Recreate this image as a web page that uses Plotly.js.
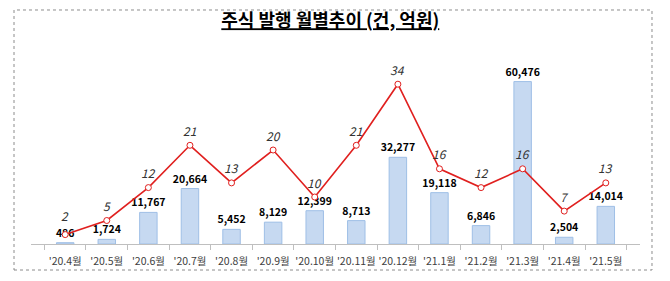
<!DOCTYPE html>
<html>
<head>
<meta charset="utf-8">
<script src="https://cdn.plot.ly/plotly-3.0.1.min.js"></script>
<style>
  html, body { margin: 0; padding: 0; background: #ffffff; }
  #chart { width: 670px; height: 281px; }
</style>
</head>
<body>
<div id="chart"></div>
<script>
// Monthly stock issuance: count (건) and amount (억원)
const months = ["'20.4월", "'20.5월", "'20.6월", "'20.7월", "'20.8월", "'20.9월", "'20.10월",
                "'20.11월", "'20.12월", "'21.1월", "'21.2월", "'21.3월", "'21.4월", "'21.5월"];
const amounts = [486, 1724, 11767, 20664, 5452, 8129, 12399, 8713, 32277, 19118, 6846, 60476, 2504, 14014];
const counts = [2, 5, 12, 21, 13, 20, 10, 21, 34, 16, 12, 16, 7, 13];

const FONT = '"Noto Sans CJK KR", "Noto Sans", sans-serif';

const amountTrace = {
  type: 'bar',
  x: months,
  y: amounts,
  width: 0.42,
  marker: { color: '#c6d9f1', line: { color: '#9fbfe6', width: 1 } },
  text: amounts.map(v => v.toLocaleString('en-US')),
  textposition: 'outside',
  constraintext: 'none',
  textfont: { family: FONT, size: 10.5, color: '#000000', weight: 'bold' },
  cliponaxis: false,
  hoverinfo: 'skip'
};

const countTrace = {
  type: 'scatter',
  mode: 'lines+markers',
  x: months,
  y: counts,
  yaxis: 'y2',
  line: { color: '#e0201f', width: 1.6 },
  marker: { symbol: 'circle', size: 6, color: '#ffffff', line: { color: '#e0201f', width: 1 } },
  cliponaxis: false,
  hoverinfo: 'skip'
};

// Count labels above each point; the first one sits a little higher
// so it clears the amount label of the short first bar.
const countLabels = months.map((m, i) => ({
  x: m,
  y: counts[i],
  xref: 'x',
  yref: 'y2',
  text: String(counts[i]),
  showarrow: false,
  yshift: i === 0 ? 19 : 15,
  borderpad: 0,
  font: { family: FONT, size: 12, color: '#333333', style: 'italic' }
}));

const layout = {
  width: 670,
  height: 281,
  margin: { l: 31, r: 30, t: 56, b: 37, pad: 0 },
  paper_bgcolor: '#ffffff',
  plot_bgcolor: 'rgba(0,0,0,0)',
  showlegend: false,
  bargap: 0.58,
  title: {
    text: '<u>주식 발행 월별추이 (건, 억원)</u>',
    font: { family: FONT, size: 18, color: '#000000', weight: 'bold' },
    x: 0.493, xanchor: 'center',
    y: 1 - 21 / 281, yanchor: 'middle', yref: 'container'
  },
  xaxis: {
    type: 'category',
    showline: true,
    linecolor: '#bfbfbf',
    linewidth: 1,
    ticks: 'outside',
    tickson: 'boundaries',
    ticklen: 5,
    tickcolor: '#bfbfbf',
    tickangle: 0,
    ticklabelstandoff: 7,
    showgrid: false,
    zeroline: false,
    tickfont: { family: FONT, size: 10.5, color: '#404040' }
  },
  yaxis: {
    range: [0, 70000],
    visible: false,
    showgrid: false,
    zeroline: false
  },
  yaxis2: {
    range: [0, 40],
    overlaying: 'y',
    side: 'right',
    visible: false,
    showgrid: false,
    zeroline: false
  },
  annotations: countLabels,
  shapes: [
    {
      type: 'rect', xref: 'paper', yref: 'paper',
      x0: -0.0279, x1: 1.0197, y0: -0.1383, y1: 1.2447,
      line: { color: '#8c8c8c', width: 1, dash: 'dot' },
      fillcolor: 'rgba(0,0,0,0)',
      layer: 'below'
    }
  ]
};

Plotly.newPlot('chart', [amountTrace, countTrace], layout, { displayModeBar: false, staticPlot: true });
</script>
</body>
</html>
